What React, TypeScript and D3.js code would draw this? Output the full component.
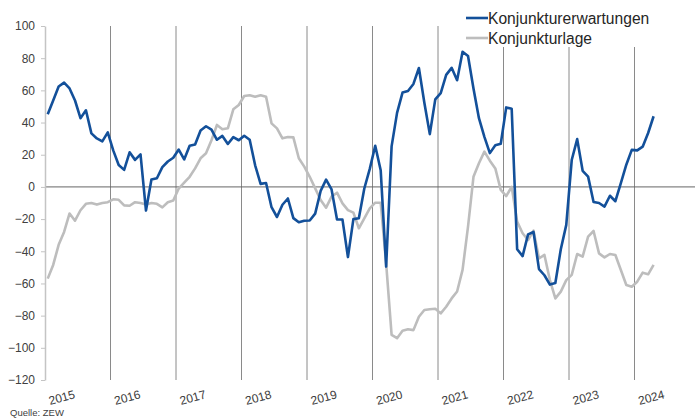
import React, { useRef, useEffect } from "react";
import * as d3 from "d3";

const years = [2015, 2016, 2017, 2018, 2019, 2020, 2021, 2022, 2023, 2024];

// ZEW Konjunkturerwartungen, monthly Jan 2015 - Apr 2024
const erwartungen = [
  45.2, 53.7, 62.4, 64.8, 61.2, 53.7, 42.7, 47.6, 33.3, 30.1, 28.3, 33.9,
  22.7, 13.6, 10.6, 21.5, 16.8, 20.2, -14.7, 4.6, 5.4, 12.3, 15.8, 18.1,
  23.2, 17.1, 25.6, 26.3, 35.1, 37.7, 35.6, 29.3, 31.7, 26.7, 30.9, 29.0,
  31.8, 29.3, 13.4, 1.9, 2.4, -12.6, -18.7, -11.1, -7.2, -19.4, -22.0, -21.0,
  -20.9, -16.6, -2.5, 4.5, -1.6, -20.2, -20.3, -43.6, -20.0, -19.5, -1.0, 11.2,
  25.6, 10.4, -49.5, 25.2, 46.0, 58.6, 59.6, 64.0, 73.9, 52.3, 32.8, 54.4,
  58.3, 69.6, 74.0, 66.3, 84.0, 81.3, 61.2, 42.7, 31.1, 21.0, 25.9, 26.8,
  49.4, 48.6, -38.7, -43.0, -29.5, -28.0, -51.1, -54.9, -60.7, -59.7, -38.7, -23.6,
  16.7, 29.7, 10.0, 6.4, -9.4, -10.0, -12.2, -5.5, -8.9, 2.3, 13.8, 23.0,
  22.7, 25.0, 33.5, 43.9,
];

// ZEW Konjunkturlage, monthly Jan 2015 - Apr 2024
const lage = [
  -57, -48.5, -36, -28, -16.5, -21, -14.5, -10.5, -10, -11, -10, -9.5,
  -7.7, -8, -11.5, -11.7, -9.5, -10, -11, -10, -10.5, -12.7, -9.5, -8.5,
  -1, 2.6, 6.3, 11.5, 17.8, 20.9, 29, 38.5, 35.8, 36.4, 48.2, 50.9,
  56.5, 57, 56, 57, 56, 39.5, 36.4, 30.2, 31, 30.8, 17.8, 12.6,
  6.3, -0.9, -8.1, -12.9, -6, -3.6, -10.2, -14.4, -16, -25.7, -19.5, -13.3,
  -9.8, -9.8, -47.5, -92, -94, -89.4, -88.5, -89, -80.7, -76.5, -76, -75.7,
  -78.6, -74.5, -69.3, -65, -51.6, -24.7, 6.3, 14.7, 21.9, 16.3, 11.5, -1.9,
  -5.7, 0.1, -21.6, -28.8, -33, -27.2, -44.4, -42.3, -57.9, -69.3, -65.1, -57.9,
  -54.7, -41.7, -43.3, -30.9, -27.4, -41.3, -43.8, -41.7, -42.3, -51.6, -61, -62,
  -58.9, -53.3, -54.3, -48.5,
];

const yTicks = [-120, -100, -80, -60, -40, -20, 0, 20, 40, 60, 80, 100];

const series = [
  { name: "Konjunkturerwartungen", values: erwartungen, color: "#13509a" },
  { name: "Konjunkturlage", values: lage, color: "#bdbdbd" },
];

const FONT = "'Liberation Sans', Arial, sans-serif";

const App = () => {
  const svgRef = useRef<SVGSVGElement>(null);

  useEffect(() => {
    const svg = d3.select(svgRef.current);
    svg.selectAll("*").remove();
    const width = 695;

    const x = d3.scaleLinear().domain([0, years.length * 12]).range([45, 700]);
    const y = d3.scaleLinear().domain([-120, 100]).range([380, 26]);

    // year separators
    svg
      .append("g")
      .selectAll("line")
      .data(years.slice(1))
      .enter()
      .append("line")
      .attr("x1", (d, i) => x((i + 1) * 12))
      .attr("x2", (d, i) => x((i + 1) * 12))
      .attr("y1", y(100))
      .attr("y2", y(-120))
      .attr("stroke", "#8a8a8a")
      .attr("stroke-width", 1);

    // zero line
    svg
      .append("line")
      .attr("x1", x(0))
      .attr("x2", width)
      .attr("y1", y(0))
      .attr("y2", y(0))
      .attr("stroke", "#666")
      .attr("stroke-width", 1);

    // Y axis
    const yAxis = d3
      .axisLeft(y)
      .tickValues(yTicks)
      .tickSize(4)
      .tickSizeOuter(0)
      .tickPadding(6);
    const gy = svg.append("g").attr("transform", `translate(${x(0)},0)`).call(yAxis);
    gy.select(".domain").attr("stroke", "#c4c4c4").attr("stroke-width", 1.5);
    gy.selectAll(".tick line").attr("stroke", "#c4c4c4");
    gy.selectAll(".tick text")
      .attr("fill", "#404040")
      .style("font-family", FONT)
      .style("font-size", "12px");

    // lines (grey first, blue on top)
    const line = d3
      .line<number>()
      .x((d, i) => x(i + 0.5))
      .y((d) => y(d));

    [...series].reverse().forEach((s) => {
      svg
        .append("path")
        .datum(s.values)
        .attr("d", line)
        .attr("fill", "none")
        .attr("stroke", s.color)
        .attr("stroke-width", 2.6)
        .attr("stroke-linejoin", "round");
    });

    // year labels
    svg
      .append("g")
      .selectAll("text")
      .data(years)
      .enter()
      .append("text")
      .attr("transform", (d, i) => `translate(${x(i * 12 + 6) - 2},398) rotate(-15)`)
      .attr("text-anchor", "end")
      .attr("fill", "#404040")
      .style("font-family", FONT)
      .style("font-size", "12px")
      .text((d) => d);

    // legend
    svg
      .append("rect")
      .attr("x", 462)
      .attr("y", 0)
      .attr("width", 200)
      .attr("height", 47)
      .attr("fill", "#fff");

    const legend = svg
      .selectAll(".legend")
      .data(series)
      .enter()
      .append("g")
      .attr("class", "legend")
      .attr("transform", (d, i) => `translate(466,${18 + i * 20})`);
    legend
      .append("line")
      .attr("x1", 0)
      .attr("x2", 22)
      .attr("stroke", (d) => d.color)
      .attr("stroke-width", 2.6);
    legend
      .append("text")
      .attr("x", 22)
      .attr("y", 5.5)
      .attr("fill", "#262626")
      .style("font-family", FONT)
      .style("font-size", "15.6px")
      .text((d) => d.name);

    // source
    svg
      .append("text")
      .attr("x", 10)
      .attr("y", 416)
      .attr("fill", "#404040")
      .style("font-family", FONT)
      .style("font-size", "9.5px")
      .text("Quelle: ZEW");
  }, []);

  return (
    <svg
      ref={svgRef}
      width={695}
      height={418}
      style={{ position: "absolute", left: 0, top: 0, background: "#fff" }}
    ></svg>
  );
};

export default App;
